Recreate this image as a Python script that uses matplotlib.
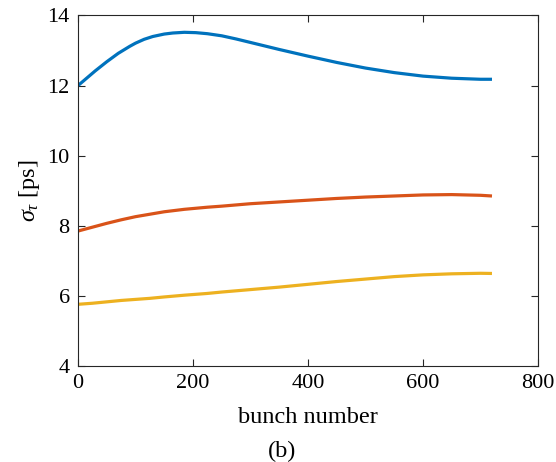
import matplotlib
matplotlib.use("Agg")
import matplotlib.pyplot as plt

plt.rcParams['font.family'] = ['Liberation Serif', 'DejaVu Serif']
plt.rcParams['mathtext.fontset'] = 'custom'
plt.rcParams['mathtext.rm'] = 'Liberation Serif'
plt.rcParams['mathtext.it'] = 'Liberation Serif:italic'

# bunch number vs. rms bunch length for the three cases
bunch_b = [0, 10, 20, 30, 40, 50, 60, 70, 80, 90, 100, 115, 130, 150, 165, 185, 205, 225, 250,
           275, 300, 350, 400, 450, 500, 550, 600, 650, 700, 720]
sigma_blue = [12.00, 12.14, 12.28, 12.42, 12.55, 12.68, 12.80, 12.92, 13.02, 13.12, 13.21, 13.32,
              13.40, 13.47, 13.50, 13.52, 13.51, 13.48, 13.42, 13.33, 13.23, 13.03,
              12.84, 12.66, 12.50, 12.37, 12.27, 12.21, 12.18, 12.18]

bunch = [0, 25, 50, 75, 100, 125, 150, 185, 225, 250, 300, 350, 400, 450, 500, 550, 600, 650, 700, 720]
sigma_red = [7.85, 7.96, 8.07, 8.17, 8.26, 8.33, 8.40, 8.47, 8.53, 8.56, 8.63, 8.68,
             8.73, 8.78, 8.82, 8.85, 8.88, 8.89, 8.87, 8.85]
sigma_yellow = [5.76, 5.79, 5.83, 5.87, 5.90, 5.93, 5.97, 6.02, 6.07, 6.11, 6.18, 6.25,
                6.33, 6.41, 6.48, 6.55, 6.60, 6.63, 6.645, 6.64]

fig = plt.figure(figsize=(5.56, 4.62), dpi=100)
ax = fig.add_axes([0.1403, 0.2078, 0.8273, 0.7587])

ax.plot(bunch_b, sigma_blue, color='#0072BD', lw=2.3, solid_capstyle='butt')
ax.plot(bunch, sigma_red, color='#D95319', lw=2.3, solid_capstyle='butt')
ax.plot(bunch, sigma_yellow, color='#EDB120', lw=2.3, solid_capstyle='butt')

ax.set_xlim(0, 800)
ax.set_ylim(4, 14)
ax.set_xticks([0, 200, 400, 600, 800])
ax.set_yticks([4, 6, 8, 10, 12, 14])
ax.tick_params(direction='in', top=True, right=True, length=5, width=0.8,
               colors='#262626', labelcolor='black', labelsize=16, pad=6)
for s in ax.spines.values():
    s.set_color('#262626')
    s.set_linewidth(0.8)

ax.set_xlabel('bunch number', fontsize=17.5, labelpad=10)
ax.set_ylabel(r'$\sigma_\tau$ [ps]', fontsize=17.5, labelpad=4)
fig.text(0.508, 0.0, '(b)', fontsize=17.5, ha='center', va='bottom')

fig.savefig('out.png', dpi=100)
